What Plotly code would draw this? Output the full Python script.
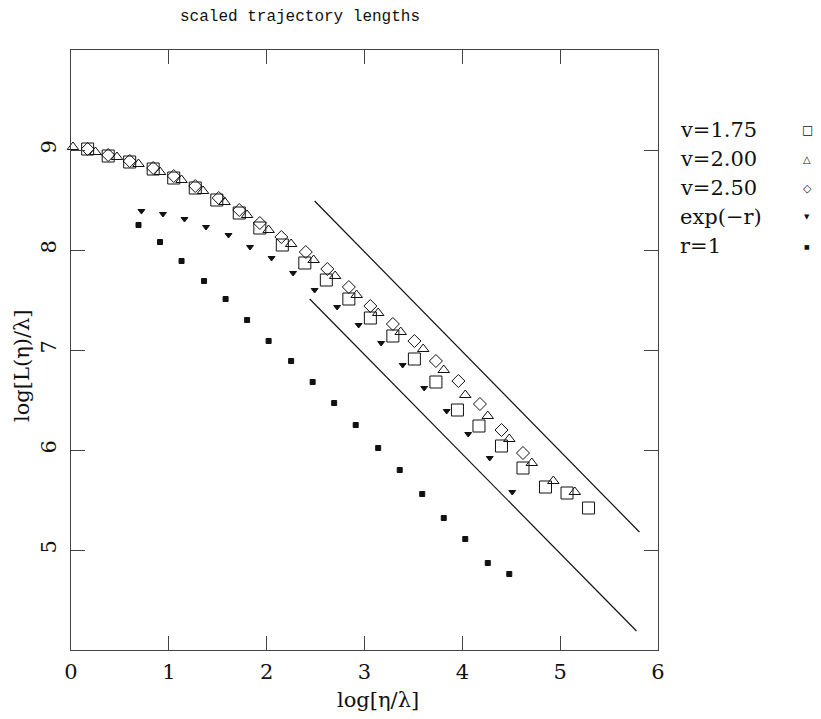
import plotly.graph_objects as go

# ---- data ----
v175_x = [0.17, 0.38, 0.60, 0.84, 1.05, 1.27, 1.49, 1.72, 1.93, 2.16, 2.39, 2.61,
          2.84, 3.06, 3.29, 3.51, 3.73, 3.95, 4.17, 4.40, 4.62, 4.85, 5.07, 5.29]
v175_y = [9.01, 8.94, 8.88, 8.81, 8.72, 8.62, 8.50, 8.37, 8.22, 8.05, 7.87, 7.70,
          7.51, 7.32, 7.14, 6.91, 6.68, 6.40, 6.24, 6.04, 5.82, 5.63, 5.57, 5.42]

v200_x = [0.02, 0.25, 0.47, 0.69, 0.91, 1.13, 1.35, 1.57, 1.80, 2.02, 2.25, 2.48,
          2.70, 2.92, 3.14, 3.37, 3.60, 3.81, 4.03, 4.26, 4.48, 4.71, 4.93, 5.15]
v200_y = [9.03, 8.98, 8.93, 8.86, 8.78, 8.70, 8.59, 8.48, 8.35, 8.20, 8.06, 7.90,
          7.74, 7.55, 7.37, 7.18, 7.01, 6.80, 6.55, 6.34, 6.11, 5.87, 5.69, 5.58]

v250_x = [0.17, 0.38, 0.60, 0.84, 1.05, 1.27, 1.51, 1.72, 1.93, 2.15, 2.40, 2.62,
          2.84, 3.06, 3.29, 3.51, 3.73, 3.96, 4.18, 4.40, 4.62]
v250_y = [9.01, 8.95, 8.89, 8.82, 8.74, 8.64, 8.52, 8.40, 8.27, 8.13, 7.98, 7.81,
          7.63, 7.44, 7.26, 7.09, 6.89, 6.69, 6.46, 6.20, 5.97]

expr_x = [0.72, 0.94, 1.16, 1.38, 1.61, 1.83, 2.05, 2.27, 2.49, 2.72, 2.94, 3.17,
          3.39, 3.61, 3.84, 4.06, 4.28, 4.51]
expr_y = [8.39, 8.36, 8.31, 8.23, 8.15, 8.03, 7.92, 7.77, 7.60, 7.43, 7.25, 7.07,
          6.85, 6.62, 6.39, 6.16, 5.92, 5.58]

r1_x = [0.69, 0.91, 1.13, 1.36, 1.58, 1.80, 2.02, 2.25, 2.47, 2.69, 2.91, 3.14,
        3.36, 3.59, 3.81, 4.03, 4.26, 4.48]
r1_y = [8.25, 8.08, 7.89, 7.69, 7.51, 7.30, 7.09, 6.89, 6.68, 6.47, 6.25, 6.02,
        5.80, 5.56, 5.32, 5.11, 4.87, 4.76]

upper_line_x = [2.49, 5.81]
upper_line_y = [8.49, 5.18]
lower_line_x = [2.44, 5.78]
lower_line_y = [7.51, 4.19]

x_ticks = [0, 1, 2, 3, 4, 5, 6]
y_ticks = [5, 6, 7, 8, 9]

legend_labels = ["v=1.75", "v=2.00", "v=2.50", "exp(\u2212r)", "r=1"]
legend_symbols = ["\u25a1", "\u25b3", "\u25c7", "\u25bc", "\u25a0"]
legend_sym_sizes = [12, 10, 11, 7, 6]

SERIF = "DejaVu Serif"
INK = "#111111"

fig = go.Figure()

def add(x, y, symbol, size):
    fig.add_trace(go.Scatter(
        x=x, y=y, mode="markers", showlegend=False, cliponaxis=False,
        marker=dict(symbol=symbol, size=size, color=INK,
                    line=dict(color=INK, width=1)),
    ))

add(v175_x, v175_y, "square-open", 12)
add(v200_x, v200_y, "triangle-up-open", 10)
add(v250_x, v250_y, "diamond-open", 10)
add(expr_x, expr_y, "triangle-down", 6)
add(r1_x, r1_y, "square", 5)

for lx, ly in [(upper_line_x, upper_line_y), (lower_line_x, lower_line_y)]:
    fig.add_trace(go.Scatter(x=lx, y=ly, mode="lines", showlegend=False,
                             line=dict(color=INK, width=1.2)))

axis_common = dict(showline=True, linecolor="#444444", linewidth=1, mirror="ticks",
                   ticks="inside", ticklen=14, tickcolor="#444444", tickwidth=1,
                   showgrid=False, zeroline=False,
                   tickfont=dict(family=SERIF, size=21, color=INK))

fig.update_xaxes(range=[0, 6], tickvals=x_ticks, ticklabelstandoff=3, **axis_common)
fig.update_yaxes(range=[4, 10], tickvals=y_ticks, tickangle=-90, ticklabelstandoff=6,
                 **axis_common)

# page body has an 8px margin: frame in page px is x 71..658, y 50..650
OFF = 8
annotations = [
    dict(text="log[\u03b7/\u03bb]", xref="paper", yref="paper", x=(378 - 71) / 587, y=(650 - 700) / 600,
         showarrow=False, font=dict(family=SERIF, size=21, color=INK), xanchor="center", yanchor="middle"),
    dict(text="log[L(\u03b7)/\u03bb]", xref="paper", yref="paper", x=(22 - 71) / 587, y=(650 - 366) / 600,
         showarrow=False, textangle=-90, font=dict(family=SERIF, size=21, color=INK),
         xanchor="center", yanchor="middle"),
]
for i, (lab, sym, ss) in enumerate(zip(legend_labels, legend_symbols, legend_sym_sizes)):
    py = 130 + 29 * i
    annotations.append(dict(text=lab, xref="paper", yref="paper", x=(678 - 71) / 587, y=(650 - py) / 600,
                            showarrow=False, xanchor="left", yanchor="middle",
                            font=dict(family=SERIF, size=21, color=INK)))
    annotations.append(dict(text=sym, xref="paper", yref="paper", x=(807 - 71) / 587, y=(650 - py) / 600,
                            showarrow=False, xanchor="center", yanchor="middle",
                            font=dict(family="DejaVu Sans", size=ss, color=INK)))

W, H = 821 - OFF, 719 - OFF
fig.update_layout(
    width=W, height=H,
    margin=dict(l=71 - OFF, r=W - (658 - OFF), t=50 - OFF, b=H - (650 - OFF)),
    paper_bgcolor="white", plot_bgcolor="white",
    title=dict(text="scaled trajectory lengths", x=(300 - OFF) / W, xref="container", xanchor="center",
               y=1 - (15 - OFF) / H, yref="container", yanchor="middle",
               font=dict(family="Liberation Mono", size=16, color=INK)),
    annotations=annotations,
)

fig.write_html("out.html")
